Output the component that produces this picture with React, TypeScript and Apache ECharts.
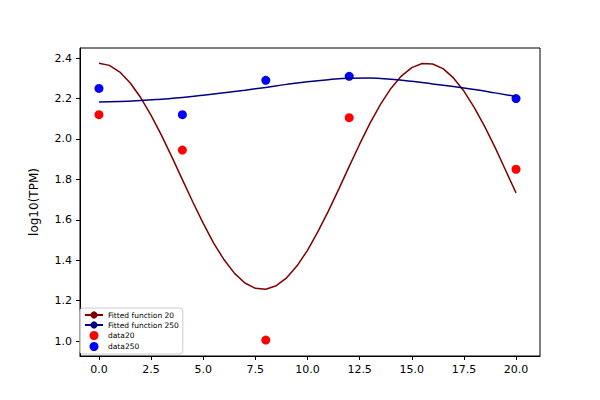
import React, { useEffect, useRef } from "react";
import * as echarts from "echarts";

const fitX20 = [0,0.5,1,1.5,2,2.5,3,3.5,4,4.5,5,5.5,6,6.5,7,7.5,8,8.5,9,9.5,10,10.5,11,11.5,12,12.5,13,13.5,14,14.5,15,15.5,16,16.5,17,17.5,18,18.5,19,19.5,20];
const fitY20 = [2.375,2.364,2.331,2.277,2.205,2.117,2.018,1.910,1.799,1.688,1.582,1.485,1.402,1.335,1.287,1.261,1.256,1.274,1.313,1.372,1.449,1.541,1.643,1.752,1.864,1.974,2.078,2.171,2.250,2.311,2.353,2.373,2.371,2.348,2.302,2.237,2.155,2.061,1.957,1.845,1.733];
const fitX250 = [0,1,2,3,4,5,6,7,8,9,10,11,12,13,14,15,16,17,18,19,20];
const fitY250 = [2.183,2.185,2.19,2.197,2.205,2.216,2.228,2.241,2.255,2.27,2.283,2.293,2.300,2.301,2.295,2.285,2.272,2.259,2.245,2.228,2.21];
const dataX = [0,4,8,12,20];
const data20 = [2.12,1.945,1.005,2.105,1.85];
const data250 = [2.25,2.12,2.29,2.31,2.20];
const xTicks = [0,2.5,5,7.5,10,12.5,15,17.5,20];
const yTicks = [1.0,1.2,1.4,1.6,1.8,2.0,2.2,2.4];

const zip = (xs: number[], ys: number[]) => xs.map((x, i) => [x, ys[i]]);

export default function App() {
  const ref = useRef<HTMLDivElement>(null);
  useEffect(() => {
    const chart = echarts.init(ref.current!, null, { renderer: "svg" });
    const font = "DejaVu Sans";
    chart.setOption({
      animation: false,
      textStyle: { fontFamily: font },
      grid: { left: 80, right: 60, top: 48, bottom: 44, show: true, borderColor: "#000", borderWidth: 1 },
      xAxis: {
        type: "value", min: -0.91, max: 21.15,
        splitLine: { show: false },
        axisLine: { onZero: false, lineStyle: { color: "#000" } },
        axisTick: { customValues: xTicks, length: 4, lineStyle: { color: "#000" } },
        axisLabel: { customValues: xTicks, color: "#000", fontSize: 11, formatter: (v: number) => v.toFixed(1) },
      },
      yAxis: {
        type: "value", min: 0.926, max: 2.45,
        name: "log10(TPM)", nameLocation: "middle", nameGap: 40,
        nameTextStyle: { color: "#000", fontSize: 12 },
        splitLine: { show: false },
        axisLine: { show: true, onZero: false, lineStyle: { color: "#000" } },
        axisTick: { show: true, customValues: yTicks, length: 4, lineStyle: { color: "#000" } },
        axisLabel: { customValues: yTicks, color: "#000", fontSize: 11, formatter: (v: number) => v.toFixed(1) },
      },
      legend: {
        orient: "vertical", left: 80, bottom: 46, itemGap: 2, itemWidth: 18, itemHeight: 9,
        backgroundColor: "rgba(255,255,255,0.8)", borderColor: "#ccc", borderWidth: 1, borderRadius: 3,
        padding: [3, 4], textStyle: { fontSize: 7.5, color: "#000" },
        data: [
          { name: "Fitted function 20" },
          { name: "Fitted function 250" },
          { name: "data20", icon: "circle" },
          { name: "data250", icon: "circle" },
        ],
      },
      series: [
        { name: "Fitted function 20", type: "line", data: zip(fitX20, fitY20), showSymbol: false, symbol: "none", lineStyle: { color: "#800000", width: 1.5 }, itemStyle: { color: "#800000" } },
        { name: "Fitted function 250", type: "line", data: zip(fitX250, fitY250), smooth: true, showSymbol: false, symbol: "none", lineStyle: { color: "#000080", width: 1.5 }, itemStyle: { color: "#000080" } },
        { name: "data20", type: "scatter", data: zip(dataX, data20), symbolSize: 9, itemStyle: { color: "#ff0000", opacity: 1 } },
        { name: "data250", type: "scatter", data: zip(dataX, data250), symbolSize: 9, itemStyle: { color: "#0000ff", opacity: 1 } },
      ],
    });
    return () => chart.dispose();
  }, []);
  return <div ref={ref} style={{ width: 600, height: 400, position: "absolute", left: 0, top: 0 }} />;
}
